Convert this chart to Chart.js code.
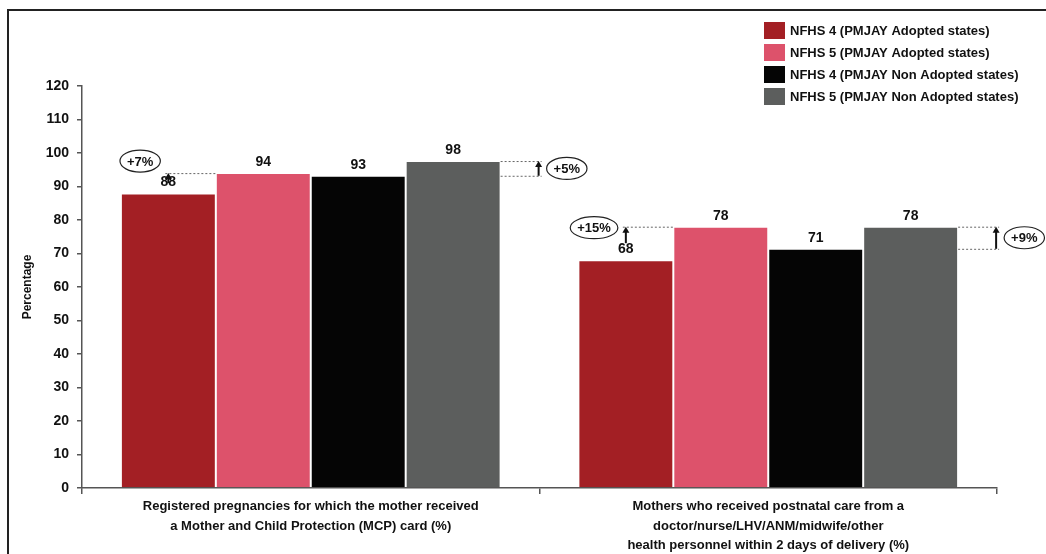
<!DOCTYPE html>
<html>
<head>
<meta charset="utf-8">
<script src="https://cdn.jsdelivr.net/npm/chart.js@4.4.1/dist/chart.umd.min.js"></script>
<style>
html,body{margin:0;padding:0;background:#fff;}
#wrap{position:relative;width:1046px;height:554px;overflow:hidden;}
#frame{position:absolute;left:7px;top:9px;width:1100px;height:600px;border-left:2px solid #222;border-top:2px solid #222;}
canvas{position:absolute;left:0;top:0;}
</style>
</head>
<body>
<div id="wrap">
  <div id="frame"></div>
  <canvas id="canvas" width="1046" height="554"></canvas>
</div>
<script>
// data
var categories = [
    ["Registered pregnancies for which the mother received", "a Mother and Child Protection (MCP) card (%)"],
    ["Mothers who received postnatal care from a", "doctor/nurse/LHV/ANM/midwife/other", "health personnel within 2 days of delivery (%)"]
]
var seriesNames = [
    "NFHS 4 (PMJAY Adopted states)",
    "NFHS 5 (PMJAY Adopted states)",
    "NFHS 4 (PMJAY Non Adopted states)",
    "NFHS 5 (PMJAY Non Adopted states)"
]
var nfhs4Adopted = [87.9, 68.0]
var nfhs5Adopted = [94.0, 78.0]
var nfhs4NonAdopted = [93.2, 71.4]
var nfhs5NonAdopted = [97.6, 78.0]
var changeAdopted = ["+7%", "+15%"]
var changeNonAdopted = ["+5%", "+9%"]
var yMin = 0, yMax = 120, yStep = 10

var colors = ['#A31F24', '#DD526B', '#050505', '#5C5E5D']
var fam = "'Liberation Sans Narrow', 'Liberation Sans', sans-serif"

var canvas = document.getElementById('canvas')

// legend, value labels and the change markers
var extras = {
    id: 'extras',
    afterDatasetsDraw: function(chart) {
        var ctx = chart.ctx
        var metas = [0, 1, 2, 3].map(function(i){ return chart.getDatasetMeta(i) })
        ctx.save()

        // value labels
        ctx.fillStyle = '#111'
        ctx.font = 'bold 14px ' + fam
        ctx.textAlign = 'center'
        ctx.textBaseline = 'middle'
        metas.forEach(function(meta, i){
            meta.data.forEach(function(bar, j){
                var v = chart.data.datasets[i].data[j]
                ctx.fillText(Math.round(v), bar.x, bar.y - 11)
            })
        })

        function arrow(x, y0, y1) {
            ctx.beginPath()
            ctx.lineWidth = 2
            ctx.strokeStyle = '#111'
            ctx.moveTo(x, y0)
            ctx.lineTo(x, y1 + 5)
            ctx.stroke()
            ctx.beginPath()
            ctx.fillStyle = '#111'
            ctx.moveTo(x, y1)
            ctx.lineTo(x - 3.5, y1 + 6)
            ctx.lineTo(x + 3.5, y1 + 6)
            ctx.closePath()
            ctx.fill()
        }
        function dashed(x0, x1, y) {
            ctx.beginPath()
            ctx.setLineDash([2, 2])
            ctx.lineWidth = 1
            ctx.strokeStyle = '#666'
            ctx.moveTo(x0, y + 0.5)
            ctx.lineTo(x1, y + 0.5)
            ctx.stroke()
            ctx.setLineDash([])
        }
        function bubble(txt, cx, cy) {
            ctx.font = 'bold 13px ' + fam
            var w = ctx.measureText(txt).width
            ctx.beginPath()
            ctx.lineWidth = 1.2
            ctx.strokeStyle = '#222'
            ctx.ellipse(cx, cy, w / 2 + 7, 11, 0, 0, Math.PI * 2)
            ctx.stroke()
            ctx.fillStyle = '#111'
            ctx.textAlign = 'center'
            ctx.textBaseline = 'middle'
            ctx.fillText(txt, cx, cy + 1)
        }

        for (var j = 0; j < categories.length; j++) {
            var red = metas[0].data[j], pink = metas[1].data[j]
            var blk = metas[2].data[j], gry = metas[3].data[j]
            var bw = red.width

            // adopted states: from NFHS 4 up to NFHS 5
            var ax = red.x
            var labelY = red.y - 11
            dashed(ax - 3, red.x + bw / 2, pink.y)
            arrow(ax, Math.max(labelY - 6, pink.y + 10), pink.y)
            ctx.font = 'bold 13px ' + fam
            var rx = ctx.measureText(changeAdopted[j]).width / 2 + 7
            var by = (labelY - pink.y < 15) ? pink.y - 12 : pink.y + 1
            bubble(changeAdopted[j], ax - 8 - rx, by)

            // non adopted states
            var gx = gry.x + bw / 2
            var ex = gx + 38
            dashed(gx, ex + 3, gry.y)
            dashed(gx, ex + 3, blk.y)
            arrow(ex, blk.y, gry.y)
            ctx.font = 'bold 13px ' + fam
            var rx2 = ctx.measureText(changeNonAdopted[j]).width / 2 + 7
            bubble(changeNonAdopted[j], ex + 8 + rx2, (gry.y + blk.y) / 2)
        }

        // legend
        ctx.font = 'bold 13px ' + fam
        ctx.textAlign = 'left'
        ctx.textBaseline = 'middle'
        chart.data.datasets.forEach(function(ds, i){
            var y = 22 + 22 * i
            ctx.fillStyle = ds.backgroundColor
            ctx.fillRect(764, y, 21, 17)
            ctx.fillStyle = '#111'
            ctx.fillText(ds.label, 790, y + 9)
        })
        ctx.restore()
    }
}

var chart = new Chart(canvas, {
    type: 'bar',
    data: {
        labels: categories,
        datasets: [
            {label: seriesNames[0], data: nfhs4Adopted, backgroundColor: colors[0]},
            {label: seriesNames[1], data: nfhs5Adopted, backgroundColor: colors[1]},
            {label: seriesNames[2], data: nfhs4NonAdopted, backgroundColor: colors[2]},
            {label: seriesNames[3], data: nfhs5NonAdopted, backgroundColor: colors[3]}
        ]
    },
    options: {
        responsive: false,
        animation: false,
        categoryPercentage: 0.83,
        barPercentage: 1,
        borderWidth: 1,
        borderColor: 'rgba(255,255,255,0.55)',
        layout: {
            padding: {top: 86, right: 49, left: 0, bottom: 0}
        },
        plugins: {
            legend: {display: false},
            tooltip: {enabled: false}
        },
        scales: {
            x: {
                grid: {drawOnChartArea: false, tickLength: 6, color: '#555', lineWidth: 1.5},
                border: {color: '#555', width: 1.5},
                ticks: {
                    color: '#111',
                    maxRotation: 0,
                    padding: 3,
                    font: {family: fam, size: 13, weight: 'bold', lineHeight: 1.5}
                },
                afterFit: function(scale){ scale.height = 66 }
            },
            y: {
                min: yMin,
                max: yMax,
                ticks: {
                    stepSize: yStep,
                    color: '#111',
                    padding: 8,
                    font: {family: fam, size: 14, weight: 'bold'}
                },
                grid: {drawOnChartArea: false, tickLength: 5, color: '#555', lineWidth: 1.5},
                border: {color: '#555', width: 1.5},
                title: {
                    display: true,
                    text: 'Percentage',
                    color: '#111',
                    padding: {top: 20, bottom: 0},
                    font: {family: fam, size: 12, weight: 'bold'}
                },
                afterFit: function(scale){ scale.width = 82 }
            }
        }
    },
    plugins: [extras]
})
</script>
</body>
</html>
